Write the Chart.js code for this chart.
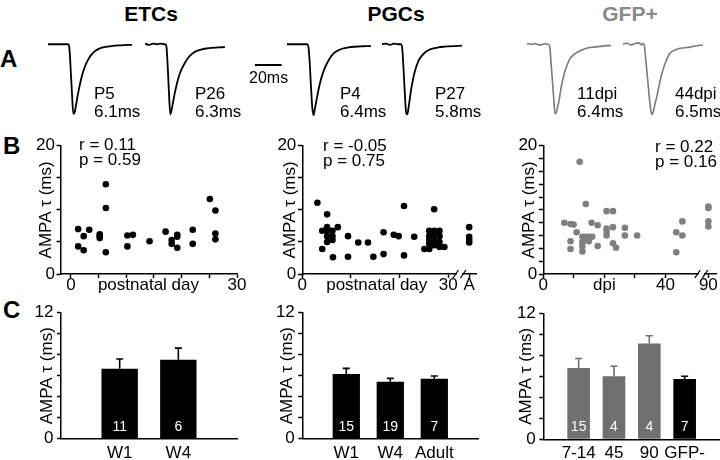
<!DOCTYPE html>
<html>
<head>
<meta charset="utf-8">
<script src="https://cdn.jsdelivr.net/npm/chart.js@4.4.1/dist/chart.umd.min.js"></script>
<style>
  body { margin: 0; background: #fff; }
  #fig { position: relative; width: 720px; height: 460px; overflow: hidden; font-family: "Liberation Sans", Arial, sans-serif; color: #000; }
  #fig canvas { position: absolute; }
  .t { position: absolute; white-space: nowrap; line-height: 1; }
  .head { font-weight: bold; font-size: 21px; transform: translate(-50%, -50%); }
  .panel { font-weight: bold; font-size: 24px; transform: translateY(-50%); }
  .lbl { font-size: 17px; transform: translateY(-50%); }
</style>
</head>
<body>
<div id="fig">
  <div class="t head" style="left:151px;top:13px">ETCs</div>
  <div class="t head" style="left:396px;top:13px">PGCs</div>
  <div class="t head" style="left:630px;top:13px;color:#8a8a8a">GFP+</div>

  <div class="t panel" style="left:0px;top:59px">A</div>
  <div class="t panel" style="left:3px;top:146px">B</div>
  <div class="t panel" style="left:3px;top:310px">C</div>

  <canvas id="trP5" width="90" height="78" style="left:48px;top:40px"></canvas>
  <canvas id="trP26" width="90" height="78" style="left:145px;top:40px"></canvas>
  <canvas id="trP4" width="90" height="78" style="left:287px;top:40px"></canvas>
  <canvas id="trP27" width="90" height="78" style="left:382px;top:40px"></canvas>
  <canvas id="tr11" width="90" height="78" style="left:527px;top:40px"></canvas>
  <canvas id="tr44" width="90" height="78" style="left:623px;top:40px"></canvas>
  <canvas id="scaleBar" width="30" height="6" style="left:255px;top:62px"></canvas>

  <div class="t lbl" style="left:94px;top:93px">P5</div>
  <div class="t lbl" style="left:94px;top:111px">6.1ms</div>
  <div class="t lbl" style="left:195px;top:93px">P26</div>
  <div class="t lbl" style="left:195px;top:111px">6.3ms</div>
  <div class="t lbl" style="left:249px;top:78px;font-size:16px">20ms</div>
  <div class="t lbl" style="left:340px;top:93px">P4</div>
  <div class="t lbl" style="left:340px;top:111px">6.4ms</div>
  <div class="t lbl" style="left:435px;top:93px">P27</div>
  <div class="t lbl" style="left:435px;top:111px">5.8ms</div>
  <div class="t lbl" style="left:577px;top:93px">11dpi</div>
  <div class="t lbl" style="left:577px;top:111px">6.4ms</div>
  <div class="t lbl" style="left:675px;top:93px">44dpi</div>
  <div class="t lbl" style="left:675px;top:111px">6.5ms</div>

  <canvas id="sETC" width="250" height="170" style="left:0px;top:130px"></canvas>
  <canvas id="sPGC" width="230" height="170" style="left:250px;top:130px"></canvas>
  <canvas id="sGFP" width="240" height="170" style="left:480px;top:130px"></canvas>

  <div class="t lbl" style="left:79px;top:144px">r = 0.11</div>
  <div class="t lbl" style="left:79px;top:159px">p = 0.59</div>
  <div class="t lbl" style="left:323px;top:145px">r = -0.05</div>
  <div class="t lbl" style="left:323px;top:160px">p = 0.75</div>
  <div class="t lbl" style="left:655px;top:146px">r = 0.22</div>
  <div class="t lbl" style="left:655px;top:161px">p = 0.16</div>

  <canvas id="bETC" width="250" height="160" style="left:0px;top:300px"></canvas>
  <canvas id="bPGC" width="230" height="160" style="left:250px;top:300px"></canvas>
  <canvas id="bGFP" width="240" height="160" style="left:480px;top:300px"></canvas>
</div>

<script>
// ---- A: example EPSC traces (normalised amplitude, sampled in ms) ----
const T_MS = [0, 3, 6, 9, 12, 14, 15, 16, 17, 18, 19, 20, 21, 22, 23, 24, 25, 26, 28, 30, 32, 35, 38, 42, 46, 50, 55, 60, 63]
const TR_P5 = [0, 0, 0, 0, 0, 0, 0, -0.05, -0.35, -0.7, -0.98, -0.96, -0.86, -0.75, -0.65, -0.56, -0.48, -0.41, -0.3, -0.22, -0.16, -0.1, -0.065, -0.04, -0.03, -0.02, -0.015, -0.01, -0.01]
const TR_P26 = [0.01, -0.01, 0.01, 0, 0.01, 0, 0, -0.02, -0.3, -0.7, -0.99, -0.92, -0.82, -0.72, -0.63, -0.55, -0.48, -0.42, -0.33, -0.26, -0.2, -0.14, -0.1, -0.075, -0.06, -0.05, -0.045, -0.04, null]
const TR_P4 = [0, 0, 0, 0, 0, 0, 0, -0.03, -0.25, -0.6, -0.9, -1.0, -0.9, -0.8, -0.7, -0.61, -0.53, -0.46, -0.35, -0.27, -0.2, -0.13, -0.09, -0.06, -0.045, -0.035, -0.03, -0.025, -0.025]
const TR_P27 = [0, 0.01, -0.01, 0.01, 0, 0, -0.03, -0.3, -0.65, -0.95, -0.99, -0.88, -0.75, -0.62, -0.52, -0.43, -0.36, -0.3, -0.21, -0.16, -0.12, -0.08, -0.06, -0.045, -0.035, -0.03, -0.025, -0.02, null]
const TR_11DPI = [0.01, 0, 0.01, -0.01, 0, 0.01, 0, 0, -0.03, -0.25, -0.5, -0.75, -0.98, -0.96, -0.88, -0.8, -0.68, -0.57, -0.41, -0.3, -0.21, -0.15, -0.11, -0.075, -0.05, -0.04, -0.03, -0.02, -0.02]
const TR_44DPI = [0, 0.015, -0.01, 0.01, 0.02, -0.01, 0.01, -0.02, -0.2, -0.4, -0.6, -0.8, -0.95, -0.99, -0.93, -0.84, -0.77, -0.68, -0.5, -0.36, -0.25, -0.13, -0.09, -0.06, -0.05, -0.04, -0.02, -0.01, null]
const SCALE_BAR_MS = 20

// ---- B: AMPA decay tau vs age ----
const ETC_DAY = [1.3, 1.3, 2.3, 2.3, 3.3, 5.2, 5.2, 5.2, 6.3, 6.3, 6.3, 10.2, 10.2, 11.2, 14.2, 17.1, 18.2, 18.2, 19.2, 19.2, 19.2, 22, 22, 25.1, 26.1, 26.1, 26.1]
const ETC_TAU = [7.0, 4.3, 5.9, 3.7, 6.9, 6.2, 5.9, 5.6, 14.0, 10.3, 3.4, 6.0, 4.3, 6.1, 5.1, 6.6, 5.3, 4.7, 6.1, 5.8, 4.1, 6.9, 4.7, 11.7, 9.9, 6.3, 5.4]

const PGC_DAY = [3.1, 4.1, 4.1, 5.1, 5.1, 5.1, 5.1, 5.1, 6.2, 6.2, 6.2, 6.3, 7.3, 9.4, 9.4, 11.5, 13.5, 14.6, 16.7, 16.7, 18.8, 19.8, 20.9, 20.9, 23.0, 25.1, 26.1, 26.1, 26.1, 26.1, 26.1, 27.1, 27.1, 27.1, 27.1, 27.1, 28.2, 28.2, 28.2, 28.2, 29.2]
const PGC_TAU = [11.1, 6.75, 3.9, 9.3, 7.3, 6.75, 5.9, 5.0, 6.75, 5.9, 5.3, 2.6, 7.3, 5.9, 2.7, 4.9, 4.9, 2.7, 6.5, 3.1, 6.1, 5.9, 10.6, 2.9, 5.8, 3.9, 6.75, 5.9, 5.3, 4.7, 3.9, 10.1, 6.75, 6.2, 5.3, 4.5, 6.75, 5.9, 5.0, 4.2, 4.2]
const PGC_ADULT_TAU = [7.3, 5.8, 5.3, 4.9]
const PGC_ADULT_POS = 34.3   // where "A" sits on the broken axis

const GFP_DPI = [11.9, 6.9, 8.9, 9.9, 10.9, 8.9, 8.9, 13.9, 12.8, 12.8, 12.8, 12.8, 13.7, 13.9, 14.9, 14.9, 15.8, 16.0, 17.8, 17.8, 20.7, 20.7, 20.7, 20.7, 22.8, 22.8, 22.8, 23.8, 26.7, 26.7, 30.7, 43.5, 43.5, 45.5, 45.5]
const GFP_TAU = [17.5, 8.0, 7.8, 7.7, 6.5, 5.1, 3.9, 10.9, 5.8, 5.0, 4.3, 3.5, 5.8, 5.3, 5.8, 5.1, 8.0, 5.8, 7.6, 4.35, 9.8, 7.1, 6.6, 6.0, 9.8, 7.3, 4.8, 4.1, 7.2, 6.0, 6.0, 6.5, 3.4, 8.2, 6.0]
const GFP_90_TAU = [10.5, 10.3, 8.2, 7.4]
const GFP_90_POS = 54        // where "90" sits on the broken axis

// ---- C: mean tau +/- sem ----
const ETC_GROUPS = ['', 'W1', 'W4', '']
const ETC_MEAN = [null, 6.67, 7.52, null]
const ETC_SEM = [null, 0.92, 1.11, null]
const ETC_N = ['', '11', '6', '']

const PGC_GROUPS = ['', 'W1', 'W4', 'Adult', '']
const PGC_MEAN = [null, 6.16, 5.43, 5.71, null]
const PGC_SEM = [null, 0.54, 0.32, 0.26, null]
const PGC_N = ['', '15', '19', '7', '']

const GFP_GROUPS = ['', '7-14', '45', '90', 'GFP-', '']
const GFP_MEAN = [null, 6.8, 6.0, 9.13, 5.75, null]
const GFP_SEM = [null, 0.89, 0.96, 0.73, 0.25, null]
const GFP_N = ['', '15', '4', '4', '7', '']

const GREY_PT = '#7f7f7f'
const GREY_BAR = '#6f6f6f'
const GREY_TRACE = '#7a7a7a'
const FONT = '"Liberation Sans", Arial, sans-serif'

Chart.defaults.font.family = FONT
Chart.defaults.color = '#000'

const TRACE_SPAN = 67.5 // ms across a 90px trace canvas

function trace(id, amps, color, width) {
  return new Chart(document.getElementById(id), {
    type: 'line',
    data: { datasets: [{
      data: T_MS.map((t, i) => ({ x: t, y: amps[i] })),
      borderColor: color, borderWidth: width, pointRadius: 0,
      cubicInterpolationMode: 'monotone', clip: false
    }] },
    options: {
      responsive: false, animation: false, events: [],
      layout: { padding: 0 },
      plugins: { legend: { display: false }, tooltip: { enabled: false } },
      scales: {
        x: { type: 'linear', display: false, min: 0, max: TRACE_SPAN },
        y: { display: false, min: -1.04, max: 0.06 }
      }
    }
  })
}

trace('trP5', TR_P5, '#000', 1.8)
trace('trP26', TR_P26, '#000', 1.8)
trace('trP4', TR_P4, '#000', 1.8)
trace('trP27', TR_P27, '#000', 1.8)
trace('tr11', TR_11DPI, GREY_TRACE, 1.6)
trace('tr44', TR_44DPI, GREY_TRACE, 1.6)

// 20 ms scale bar, same ms-to-pixel ratio as the traces
new Chart(document.getElementById('scaleBar'), {
  type: 'line',
  data: { datasets: [{ data: [{ x: 0, y: 0 }, { x: SCALE_BAR_MS, y: 0 }], borderColor: '#000', borderWidth: 2, pointRadius: 0 }] },
  options: {
    responsive: false, animation: false, events: [],
    layout: { padding: 0 },
    plugins: { legend: { display: false }, tooltip: { enabled: false } },
    scales: { x: { type: 'linear', display: false, min: 0, max: 30 * TRACE_SPAN / 90 }, y: { display: false, min: -1, max: 1 } }
  }
})

// "//" break on the x axis
const axisBreak = {
  id: 'axisBreak',
  afterDraw(chart, args, opts) {
    if (opts.at == null) return
    const ctx = chart.ctx
    const x = chart.scales.x.getPixelForValue(opts.at)
    const y = chart.chartArea.bottom
    ctx.save()
    ctx.fillStyle = '#fff'
    ctx.fillRect(x - 2.5, y - 2, 5, 4)
    ctx.strokeStyle = '#000'
    ctx.lineWidth = 1.3
    ctx.beginPath()
    ctx.moveTo(x - 6.5, y + 4); ctx.lineTo(x - 1, y - 4)
    ctx.moveTo(x + 1, y + 4); ctx.lineTo(x + 6.5, y - 4)
    ctx.stroke()
    ctx.restore()
  }
}

// error bar (upper half) + n inside each bar
const barExtras = {
  id: 'barExtras',
  afterDatasetsDraw(chart) {
    const ds = chart.data.datasets[0]
    const meta = chart.getDatasetMeta(0)
    const y = chart.scales.y
    const ctx = chart.ctx
    ctx.save()
    meta.data.forEach((bar, i) => {
      if (ds.data[i] == null) return
      const top = y.getPixelForValue(ds.data[i] + ds.sem[i])
      ctx.strokeStyle = ds.backgroundColor[i]
      ctx.lineWidth = 1.6
      ctx.beginPath()
      ctx.moveTo(bar.x, bar.y); ctx.lineTo(bar.x, top)
      ctx.moveTo(bar.x - 3.5, top); ctx.lineTo(bar.x + 3.5, top)
      ctx.stroke()
      ctx.fillStyle = '#fff'
      ctx.font = '14px ' + FONT
      ctx.textAlign = 'center'
      ctx.textBaseline = 'middle'
      ctx.fillText(ds.counts[i], bar.x, y.getPixelForValue(0) - 12)
    })
    ctx.restore()
  }
}

function yAxis(max, step, width, titlePad, tickLen, tickPad) {
  const vals = []
  for (let v = 0; v <= max; v += step) vals.push(v)
  return {
    min: 0, max,
    afterBuildTicks: s => { s.ticks = vals.map(v => ({ value: v })) },
    afterFit: s => { s.width = width; s.paddingTop = 0; s.paddingBottom = 0 },
    border: { display: true, color: '#000', width: 1.5 },
    grid: { drawOnChartArea: false, tickLength: tickLen, tickWidth: 1.5, tickColor: '#000' },
    ticks: {
      autoSkip: false, padding: tickPad, color: '#000',
      font: { size: 17, lineHeight: 1 },
      callback: v => (v === 0 || v === max) ? String(v) : ''
    },
    title: {
      display: true, text: 'AMPA τ (ms)', color: '#000',
      font: { size: 17, lineHeight: 1 }, padding: { top: titlePad, bottom: 0 }
    }
  }
}

function scatterPanel(id, c) {
  return new Chart(document.getElementById(id), {
    type: 'scatter',
    data: { datasets: [{
      data: c.xs.map((v, i) => ({ x: v, y: c.ys[i] })),
      backgroundColor: c.color, borderWidth: 0, pointRadius: 3.3, clip: false
    }] },
    options: {
      responsive: false, animation: false, events: [],
      layout: { padding: { left: 0, top: 15.7, right: c.right, bottom: 0 } },
      plugins: {
        legend: { display: false }, tooltip: { enabled: false },
        axisBreak: c.breakAt != null ? { at: c.breakAt } : false
      },
      scales: {
        x: {
          type: 'linear', min: c.xMin, max: c.xMax,
          afterBuildTicks: s => { s.ticks = c.xTicks.map(v => ({ value: v })) },
          afterFit: s => { s.height = 26; s.paddingLeft = 0; s.paddingRight = 0 },
          border: { display: true, color: '#000', width: 1.5 },
          grid: {
            drawOnChartArea: false, tickLength: 4, tickWidth: 1.5,
            tickColor: ctx => (ctx.tick && c.textOnly.includes(ctx.tick.value)) ? 'rgba(0,0,0,0)' : '#000'
          },
          ticks: {
            autoSkip: false, maxRotation: 0, padding: -1, color: '#000',
            font: { size: 17, lineHeight: 1 },
            callback: v => c.xLabels[v] ?? ''
          }
        },
        y: yAxis(20, c.yStep, c.yWidth, c.titlePad, 4.5, 1.5)
      }
    },
    plugins: [axisBreak]
  })
}

scatterPanel('sETC', {
  xs: ETC_DAY, ys: ETC_TAU, color: '#000',
  xMin: -1.8, xMax: 30, right: 13, yWidth: 61, titlePad: 38, yStep: 5,
  xTicks: [0, 5, 10, 14, 15, 20, 25, 30], textOnly: [14],
  xLabels: { 0: '0', 14: 'postnatal day', 30: '30' }
})

scatterPanel('sPGC', {
  xs: PGC_DAY.concat(PGC_ADULT_TAU.map(() => PGC_ADULT_POS)),
  ys: PGC_TAU.concat(PGC_ADULT_TAU), color: '#000',
  xMin: 0, xMax: 35.7, right: 1.7, yWidth: 52.3, titlePad: 31.5, yStep: 5, breakAt: 32.3,
  xTicks: [0, 10, 15.3, 20, 30, PGC_ADULT_POS], textOnly: [15.3],
  xLabels: { 0: '0', 15.3: 'postnatal day', 30: '30', [PGC_ADULT_POS]: 'A' }
})

scatterPanel('sGFP', {
  xs: GFP_DPI.concat(GFP_90_TAU.map(() => GFP_90_POS)),
  ys: GFP_TAU.concat(GFP_90_TAU), color: GREY_PT,
  xMin: 0, xMax: 56.5, right: 0, yWidth: 63.3, titlePad: 40.5, yStep: 2, breakAt: 51.7,
  xTicks: [0, 10, 20, 30, 40, GFP_90_POS], textOnly: [],
  xLabels: { 0: '0', 20: 'dpi', 40: '40', [GFP_90_POS]: '90' }
})

function barPanel(id, c) {
  return new Chart(document.getElementById(id), {
    type: 'bar',
    data: {
      labels: c.labels,
      datasets: [{
        data: c.means, sem: c.sem, counts: c.n,
        backgroundColor: c.colors, borderWidth: 0,
        barPercentage: c.barPct, categoryPercentage: 1
      }]
    },
    options: {
      responsive: false, animation: false, events: [],
      layout: { padding: { left: 0, top: c.top, right: c.right, bottom: 0 } },
      plugins: { legend: { display: false }, tooltip: { enabled: false } },
      scales: {
        x: {
          type: 'category', offset: false,
          afterFit: s => { s.height = 160 - c.top - 126; s.paddingLeft = 0; s.paddingRight = 0 },
          border: { display: true, color: '#000', width: 1.5 },
          grid: { display: false, drawTicks: false },
          ticks: { autoSkip: false, maxRotation: 0, padding: 6, color: '#000', font: { size: 17, lineHeight: 1 } }
        },
        y: yAxis(12, 2, c.yWidth, c.titlePad, 4, 3.5)
      }
    },
    plugins: [barExtras]
  })
}

barPanel('bETC', {
  labels: ETC_GROUPS, means: ETC_MEAN, sem: ETC_SEM, n: ETC_N,
  colors: ['#000', '#000', '#000', '#000'], barPct: 0.62,
  top: 12.7, right: 13, yWidth: 61, titlePad: 39
})

barPanel('bPGC', {
  labels: PGC_GROUPS, means: PGC_MEAN, sem: PGC_SEM, n: PGC_N,
  colors: ['#000', '#000', '#000', '#000', '#000'], barPct: 0.62,
  top: 12.7, right: 1.7, yWidth: 52.3, titlePad: 29
})

barPanel('bGFP', {
  labels: GFP_GROUPS, means: GFP_MEAN, sem: GFP_SEM, n: GFP_N,
  colors: [GREY_BAR, GREY_BAR, GREY_BAR, GREY_BAR, '#000', '#000'], barPct: 0.64,
  top: 13.3, right: 0, yWidth: 63.3, titlePad: 38
})
</script>
</body>
</html>
